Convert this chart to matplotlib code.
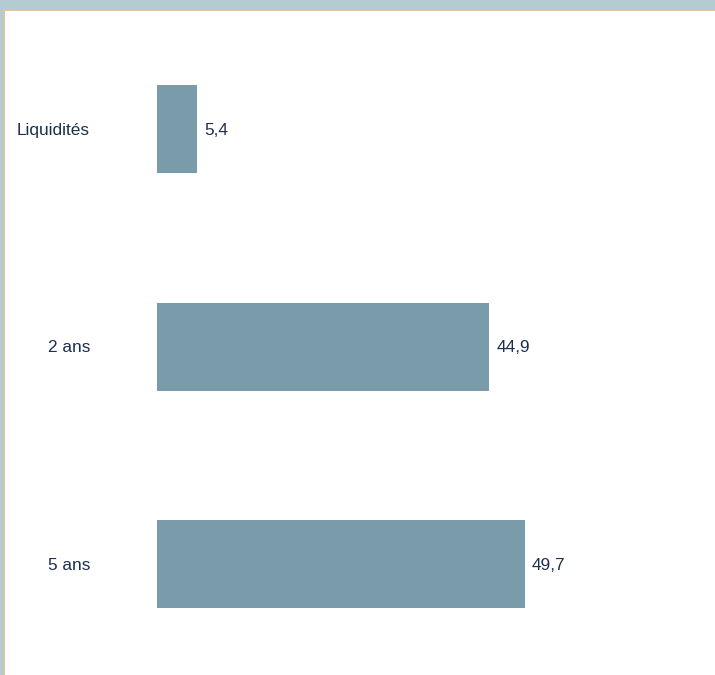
import matplotlib
matplotlib.use("Agg")
import matplotlib.pyplot as plt
from matplotlib.patches import Rectangle

categories = ["Liquidités", "2 ans", "5 ans"]
values = [5.4, 44.9, 49.7]
value_labels = ["5,4", "44,9", "49,7"]

W, H = 715, 675
fig = plt.figure(figsize=(W / 100, H / 100), dpi=100)
fig.patch.set_facecolor("white")
plt.rcParams['font.family'] = ['Liberation Sans', 'DejaVu Sans']

# frame decorations (top and left strips)
fig.patches.append(Rectangle((0, 1 - 9 / H), 1, 9 / H, transform=fig.transFigure,
                             facecolor="#B4CBD2", edgecolor="none", zorder=0))
fig.patches.append(Rectangle((0, 1 - 11 / H), 1, 2 / H, transform=fig.transFigure,
                             facecolor="#D6C7A4", edgecolor="none", zorder=0))
fig.patches.append(Rectangle((0, 0), 3 / W, 1, transform=fig.transFigure,
                             facecolor="#B4CBD2", edgecolor="none", zorder=0))
fig.patches.append(Rectangle((3 / W, 0), 2 / W, 1 - 9 / H, transform=fig.transFigure,
                             facecolor="#D6C7A4", edgecolor="none", zorder=0))

left_px = 157
ax = fig.add_axes([left_px / W, 0, (W - left_px) / W, (H - 11) / H])
ax.set_facecolor("none")
scale = 7.4  # px per unit
ax.set_xlim(0, (W - left_px) / scale)
spacing = 217.5
ax.set_ylim(2 + (675 - 564) / spacing, -(129 - 11) / spacing)

pos = list(range(len(categories)))
ax.barh(pos, values, height=88 / spacing, color="#7A9BAA", edgecolor="none")
for p, v, lab in zip(pos, values, value_labels):
    ax.annotate(lab, (v, p), xytext=(5.2, -0.8), textcoords="offset points",
                va="center", ha="left", fontsize=12.4, color="#1C2F4D")
    ax.annotate(categories[p], (0, p), xytext=(-67 * 0.72, -0.8), textcoords="offset points",
                va="center", ha="right", fontsize=12.4, color="#1C2F4D")

ax.set_xticks([])
ax.set_yticks([])
for s in ax.spines.values():
    s.set_visible(False)

fig.savefig("out.png", dpi=100)
